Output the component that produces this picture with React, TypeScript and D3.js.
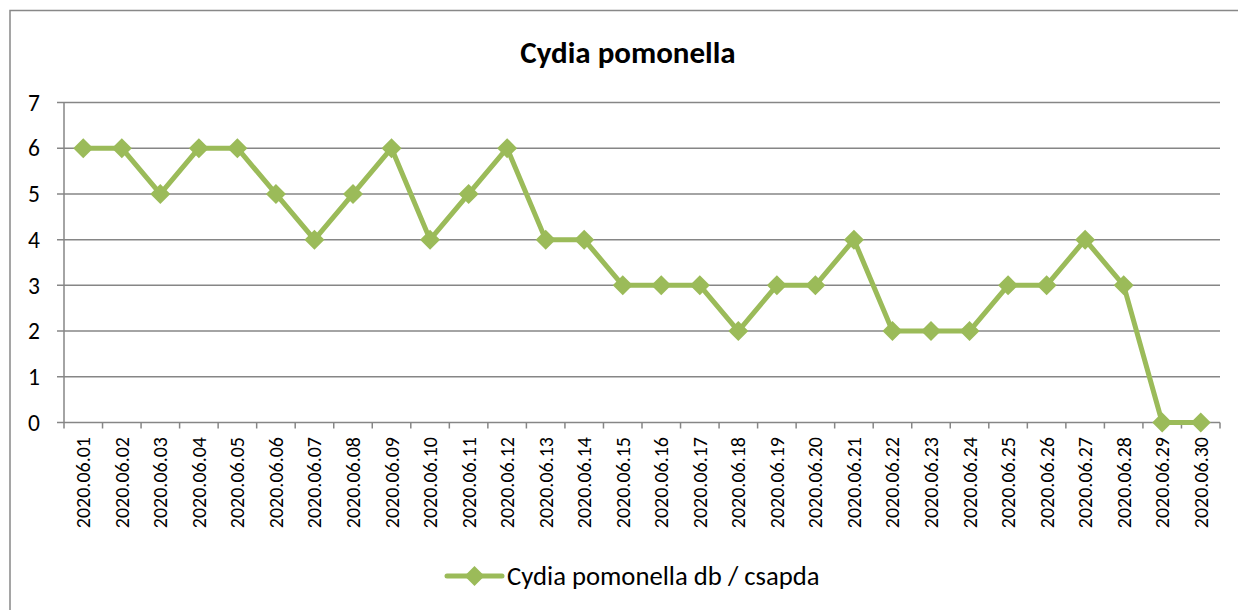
import React from "react";
import * as d3 from "d3";

const dates = [
  "2020.06.01","2020.06.02","2020.06.03","2020.06.04","2020.06.05","2020.06.06","2020.06.07","2020.06.08","2020.06.09","2020.06.10",
  "2020.06.11","2020.06.12","2020.06.13","2020.06.14","2020.06.15","2020.06.16","2020.06.17","2020.06.18","2020.06.19","2020.06.20",
  "2020.06.21","2020.06.22","2020.06.23","2020.06.24","2020.06.25","2020.06.26","2020.06.27","2020.06.28","2020.06.29","2020.06.30",
];
const counts = [6,6,5,6,6,5,4,5,6,4,5,6,4,4,3,3,3,2,3,3,4,2,2,2,3,3,4,3,0,0];
const yTicks = [0,1,2,3,4,5,6,7];
const title = "Cydia pomonella";
const seriesName = "Cydia pomonella db / csapda";

const W = 1238, H = 610;
const left = 64, right = 1220, top = 102.5, bottom = 422.5;
const green = "#9BBB59";
const grid = "#868686";
const font = "Carlito, Calibri, 'Open Sans', 'Noto Sans', sans-serif";

export default function App() {
  const x = d3.scaleBand<string>().domain(dates).range([left, right]);
  const y = d3.scaleLinear().domain([0, 7]).range([bottom, top]);
  const line = d3.line<number>().x((_, i) => x(dates[i])! + x.bandwidth() / 2).y(d => y(d));
  const diamond = (cx: number, cy: number, r: number) => `M${cx},${cy - r}L${cx + r},${cy}L${cx},${cy + r}L${cx - r},${cy}Z`;
  const tickXs = dates.map(d => x(d)!).concat([right]);
  return (
    <svg width={W} height={H} style={{ position: "absolute", left: 0, top: 0, background: "#fff" }} fontFamily={font}>
      <rect x={10} y={10.5} width={1240} height={620} fill="#fff" stroke="#888" strokeWidth={1.5} />
      <text x={628} y={63} textAnchor="middle" fontSize={31} fontWeight="bold" fill="#000">{title}</text>
      {yTicks.map(t => (
        <g key={t}>
          <line x1={left - 7} x2={right} y1={y(t)} y2={y(t)} stroke={grid} strokeWidth={1.5} />
          <text x={40} y={y(t)} dy="0.35em" textAnchor="end" fontSize={23.5} fill="#000">{t}</text>
        </g>
      ))}
      <line x1={left} x2={left} y1={top} y2={bottom} stroke={grid} strokeWidth={1.5} />
      {tickXs.map((tx, i) => (
        <line key={i} x1={tx} x2={tx} y1={bottom} y2={bottom + 6} stroke={grid} strokeWidth={1.5} />
      ))}
      {dates.map(d => (
        <text key={d} transform={`translate(${x(d)! + x.bandwidth() / 2},437) rotate(-90)`} dy="0.35em" textAnchor="end" fontSize={20} fill="#000">{d}</text>
      ))}
      <path d={line(counts)!} fill="none" stroke={green} strokeWidth={5} strokeLinejoin="round" />
      {counts.map((c, i) => (
        <path key={i} d={diamond(x(dates[i])! + x.bandwidth() / 2, y(c), 10)} fill={green} />
      ))}
      <line x1={447} x2={502} y1={576} y2={576} stroke={green} strokeWidth={5} strokeLinecap="round" />
      <path d={diamond(474.5, 576, 10)} fill={green} />
      <text x={507} y={576} dy="0.35em" fontSize={26.7} fill="#000">{seriesName}</text>
    </svg>
  );
}
